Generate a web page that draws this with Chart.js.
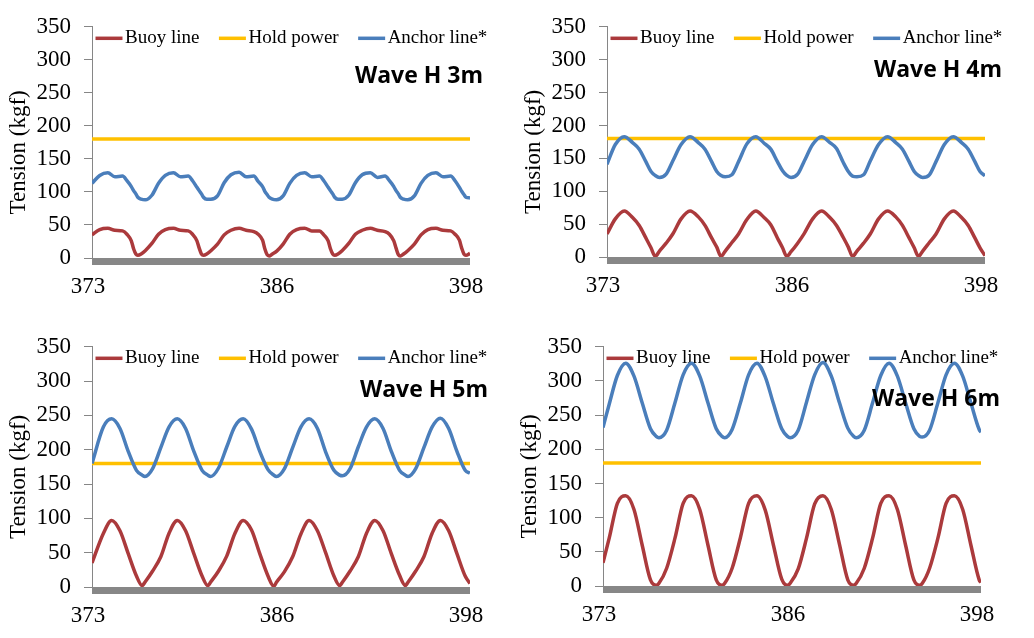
<!DOCTYPE html>
<html>
<head>
<meta charset="utf-8">
<title>Tension by wave height</title>
<script src="https://cdn.jsdelivr.net/npm/chart.js@4.4.1/dist/chart.umd.min.js"></script>
<style>
	body { margin: 0; background: #fff; }
	#wrap { position: relative; width: 1034px; height: 638px; overflow: hidden; }
	canvas { position: absolute; }
</style>
</head>
<body>
<div id="wrap">
	<canvas id="c3m" width="515" height="320" style="left:0px;top:0px"></canvas>
	<canvas id="c4m" width="519" height="320" style="left:515px;top:0px"></canvas>
	<canvas id="c5m" width="515" height="318" style="left:0px;top:320px"></canvas>
	<canvas id="c6m" width="519" height="318" style="left:515px;top:320px"></canvas>
</div>
<script>
// series names, axis text
var seriesNames = ['Buoy line', 'Hold power', 'Anchor line*'];
var yTitle = 'Tension (kgf)';
var xTickValues = [373, 385.5, 398];
var xTickLabels = ['373', '386', '398'];
var yTicks = [0, 50, 100, 150, 200, 250, 300, 350];

// hold power is flat over the whole record
var holdTimes = [373, 398];
var holdPower = [180, 180];

// wave H 3m
var t3m = [373.00,
	373.51, 374.05, 374.51, 375.02, 375.31, 375.60, 375.75, 375.90, 376.03, 376.25,
	376.52, 376.96, 377.40, 377.85, 378.39, 378.85, 379.36, 379.65, 379.94, 380.09, 380.24, 380.37, 380.59,
	380.86, 381.30, 381.74, 382.19, 382.73, 383.19, 383.70, 383.99, 384.28, 384.43, 384.58, 384.71, 384.93,
	385.20, 385.64, 386.08, 386.53, 387.07, 387.53, 388.04, 388.33, 388.62, 388.77, 388.92, 389.05, 389.27,
	389.54, 389.98, 390.42, 390.87, 391.41, 391.87, 392.38, 392.67, 392.96, 393.11, 393.26, 393.39, 393.61,
	393.88, 394.32, 394.76, 395.21, 395.75, 396.21, 396.72, 397.01, 397.30, 397.45, 397.60, 397.73, 398.00];
var buoy3m = [35,
	43, 45, 42, 41, 36, 26, 14, 6, 4, 6,
	11, 22, 36, 43, 45, 42, 41, 36, 26, 15, 6, 4, 6,
	11, 21, 35, 42, 45, 42, 40, 36, 27, 14, 5, 3, 6,
	10, 21, 36, 43, 45, 41, 41, 35, 26, 14, 6, 4, 6,
	11, 22, 36, 42, 45, 42, 40, 36, 26, 15, 5, 3, 6,
	11, 21, 35, 43, 45, 42, 41, 36, 27, 15, 6, 4, 7];
var anchor3m = [113,
	125, 129, 123, 124, 117, 108, 102, 97, 92, 89,
	88, 95, 113, 125, 129, 123, 124, 117, 107, 102, 97, 92, 89,
	89, 94, 114, 126, 130, 123, 124, 116, 108, 101, 96, 92, 89,
	88, 94, 113, 125, 129, 123, 124, 117, 107, 102, 97, 92, 89,
	89, 95, 114, 126, 129, 122, 124, 117, 108, 102, 97, 92, 89,
	88, 94, 113, 125, 129, 123, 124, 117, 107, 101, 96, 92, 91];

// wave H 4m
var t4m = [373.00,
	373.55, 374.14, 374.69, 375.13, 375.57, 375.91, 376.19,
	376.47, 376.91, 377.35, 377.90, 378.49, 379.04, 379.48, 379.92, 380.26, 380.54,
	380.82, 381.26, 381.70, 382.25, 382.84, 383.39, 383.83, 384.27, 384.61, 384.89,
	385.17, 385.61, 386.05, 386.60, 387.19, 387.74, 388.18, 388.62, 388.96, 389.24,
	389.53, 389.97, 390.41, 390.96, 391.55, 392.10, 392.54, 392.98, 393.32, 393.60,
	393.88, 394.32, 394.76, 395.31, 395.90, 396.45, 396.89, 397.33, 397.67, 398.00];
var buoy4m = [35,
	58, 70, 60, 48, 29, 14, 1,
	9, 21, 35, 58, 70, 61, 48, 29, 15, 1,
	9, 22, 35, 57, 70, 60, 49, 29, 14, 1,
	8, 21, 36, 58, 70, 60, 48, 30, 15, 1,
	9, 21, 35, 58, 70, 61, 48, 29, 14, 1,
	9, 22, 35, 58, 70, 60, 48, 29, 14, 2];
var anchor4m = [141,
	171, 183, 174, 164, 145, 130, 124,
	121, 126, 146, 171, 183, 174, 164, 145, 130, 124,
	122, 125, 145, 172, 183, 173, 164, 145, 131, 124,
	121, 126, 146, 171, 183, 174, 165, 144, 130, 123,
	122, 125, 146, 171, 183, 174, 164, 145, 130, 124,
	121, 125, 145, 171, 183, 174, 164, 145, 130, 123.5];

// wave H 5m
var t5m = [373.00,
	373.75, 374.30, 374.85, 375.39, 375.94, 376.32, 376.50,
	377.00, 377.55, 378.09, 378.64, 379.19, 379.73, 380.28, 380.66, 380.84,
	381.36, 381.91, 382.45, 383.00, 383.55, 384.09, 384.64, 385.02, 385.20,
	385.72, 386.27, 386.81, 387.36, 387.91, 388.45, 389.00, 389.38, 389.56,
	390.06, 390.61, 391.15, 391.70, 392.25, 392.79, 393.34, 393.72, 393.90,
	394.40, 394.95, 395.49, 396.04, 396.59, 397.13, 397.68, 398.00];
var buoy5m = [35,
	78, 97, 82, 49, 16, 2, 7,
	23, 44, 78, 97, 82, 49, 16, 2, 7,
	23, 45, 78, 97, 83, 49, 16, 1, 7,
	22, 44, 77, 97, 82, 50, 16, 2, 7,
	23, 44, 78, 97, 82, 49, 17, 2, 7,
	23, 44, 78, 97, 82, 49, 16, 5];
var anchor5m = [180,
	233, 245, 231, 198, 170, 163, 161,
	172, 203, 233, 245, 231, 198, 170, 163, 161,
	173, 204, 234, 245, 230, 198, 171, 163, 161,
	172, 203, 233, 245, 231, 197, 170, 163, 162,
	172, 204, 233, 245, 231, 198, 170, 163, 161,
	172, 203, 233, 246, 231, 198, 170, 166];

// wave H 6m
var t6m = [373.00,
	373.41, 373.95, 374.50, 375.05, 375.59, 376.14, 376.52, 376.70,
	377.21, 377.76, 378.30, 378.85, 379.40, 379.94, 380.49, 380.87, 381.05,
	381.54, 382.09, 382.63, 383.18, 383.73, 384.27, 384.82, 385.20, 385.38,
	385.91, 386.46, 387.00, 387.55, 388.10, 388.64, 389.19, 389.57, 389.75,
	390.28, 390.83, 391.37, 391.92, 392.47, 393.01, 393.56, 393.94, 394.12,
	394.60, 395.15, 395.69, 396.24, 396.79, 397.33, 397.88, 398.00];
var buoy6m = [34,
	70, 121, 132, 112, 60, 9, 1, 4,
	26, 70, 121, 132, 112, 60, 9, 1, 4,
	26, 71, 121, 132, 111, 60, 10, 1, 4,
	25, 70, 120, 132, 112, 61, 9, 1, 4,
	26, 70, 121, 132, 112, 60, 9, 1, 4,
	26, 70, 121, 132, 112, 60, 9, 5];
var anchor6m = [232,
	266, 308, 326, 307, 268, 230, 219, 217,
	228, 268, 309, 326, 307, 268, 230, 219, 217,
	229, 268, 309, 326, 306, 267, 230, 219, 217,
	228, 269, 309, 327, 307, 268, 231, 219, 217,
	228, 268, 308, 326, 307, 268, 230, 219, 218,
	228, 268, 309, 326, 307, 268, 229, 225];

var colors = ['#AB3A3C', '#FFC000', '#4A7EBB'];
var serif = '"Liberation Serif", "Times New Roman", serif';

// where each panel sits and where its plot area is inside the canvas
var panels = [
	{ id: 'c3m', title: 'Wave H 3m', t: t3m, buoy: buoy3m, anchor: anchor3m, w: 515, h: 320,
	  area: { left: 92, top: 15, right: 470, bottom: 258 }, titleDx: 13, titleDy: 56 },
	{ id: 'c4m', title: 'Wave H 4m', t: t4m, buoy: buoy4m, anchor: anchor4m, w: 519, h: 320,
	  area: { left: 92, top: 15, right: 470, bottom: 257 }, titleDx: 17, titleDy: 50 },
	{ id: 'c5m', title: 'Wave H 5m', t: t5m, buoy: buoy5m, anchor: anchor5m, w: 515, h: 318,
	  area: { left: 92, top: 24, right: 470, bottom: 267 }, titleDx: 18, titleDy: 50 },
	{ id: 'c6m', title: 'Wave H 6m', t: t6m, buoy: buoy6m, anchor: anchor6m, w: 519, h: 318,
	  area: { left: 88, top: 23, right: 466, bottom: 266 }, titleDx: 19, titleDy: 59 }
];

function pairs(xs, ys){
	var out = [];
	for (var i = 0; i < xs.length; i++) {
		out.push({ x: xs[i], y: ys[i] });
	}
	return out;
}

// grey base band, legend inside the plot, y title, wave label
var panelDecor = {
	id: 'panelDecor',
	beforeDatasetsDraw: function(chart, args, opts) {
		var ctx = chart.ctx;
		var a = chart.chartArea;
		var y0 = chart.scales.y.getPixelForValue(0);
		ctx.save();
		ctx.fillStyle = '#878787';
		ctx.fillRect(a.left, y0, a.right - a.left, 7);

		ctx.font = '19px ' + serif;
		ctx.textBaseline = 'middle';
		ctx.textAlign = 'left';
		var x = a.left + 3.5;
		var y = a.top + 11.5;
		chart.data.datasets.forEach(function(ds) {
			ctx.strokeStyle = ds.borderColor;
			ctx.lineWidth = 3.5;
			ctx.beginPath();
			ctx.moveTo(x, y);
			ctx.lineTo(x + 27, y);
			ctx.stroke();
			x += 29.5;
			ctx.fillStyle = '#000';
			ctx.fillText(ds.label, x, y);
			x += ctx.measureText(ds.label).width + 19.5;
		});

		ctx.translate(a.left - 73, (a.top + a.bottom) / 2 + 10);
		ctx.rotate(-Math.PI / 2);
		ctx.textAlign = 'center';
		ctx.font = '23px ' + serif;
		ctx.fillText(yTitle, 0, 0);
		ctx.restore();
	},
	afterDatasetsDraw: function(chart, args, opts) {
		var ctx = chart.ctx;
		var a = chart.chartArea;
		ctx.save();
		ctx.font = 'bold 23px "Open Sans", "Noto Sans", sans-serif';
		ctx.fillStyle = '#000';
		ctx.textAlign = 'right';
		ctx.textBaseline = 'alphabetic';
		ctx.fillText(opts.title, a.right + opts.titleDx, a.top + opts.titleDy);
		ctx.restore();
	}
};

function drawPanel(p){
	var canvas = document.getElementById(p.id);
	var xAxisHeight = 40;
	return new Chart(canvas, {
		type: 'line',
		data: {
			datasets: [
				{ label: seriesNames[0], data: pairs(p.t, p.buoy), borderColor: colors[0], order: 2 },
				{ label: seriesNames[1], data: pairs(holdTimes, holdPower), borderColor: colors[1], order: 1 },
				{ label: seriesNames[2], data: pairs(p.t, p.anchor), borderColor: colors[2], order: 0 }
			]
		},
		options: {
			responsive: false,
			animation: false,
			layout: {
				padding: { left: 0, top: p.area.top, right: p.w - p.area.right, bottom: p.h - p.area.bottom - xAxisHeight }
			},
			elements: {
				point: { radius: 0 },
				line: { borderWidth: 3.5, cubicInterpolationMode: 'monotone', fill: false }
			},
			plugins: {
				legend: { display: false },
				tooltip: { enabled: false },
				panelDecor: { title: p.title, titleDx: p.titleDx, titleDy: p.titleDy }
			},
			scales: {
				x: {
					type: 'linear',
					min: xTickValues[0],
					max: xTickValues[xTickValues.length - 1],
					grid: { display: false, drawTicks: false },
					border: { display: false },
					afterFit: function(s) { s.height = xAxisHeight; },
					afterBuildTicks: function(s) {
						s.ticks = xTickValues.map(function(v) { return { value: v }; });
					},
					ticks: {
						autoSkip: false,
						maxRotation: 0,
						padding: 15,
						labelOffset: -4,
						color: '#000',
						font: { family: serif, size: 23 },
						callback: function(v, i) { return xTickLabels[i]; }
					}
				},
				y: {
					min: yTicks[0],
					max: yTicks[yTicks.length - 1],
					afterFit: function(s) { s.width = p.area.left; },
					afterBuildTicks: function(s) {
						s.ticks = yTicks.map(function(v) { return { value: v }; });
					},
					grid: { drawOnChartArea: false, tickLength: 8, color: '#868686' },
					border: { color: '#868686', width: 1 },
					ticks: {
						padding: 13,
						color: '#000',
						font: { family: serif, size: 23 }
					}
				}
			}
		},
		plugins: [panelDecor]
	});
}

window.onload = function start(){
	for (var i = 0; i < panels.length; i++) {
		drawPanel(panels[i]);
	}
	console.log('drawn');
};
</script>
</body>
</html>
